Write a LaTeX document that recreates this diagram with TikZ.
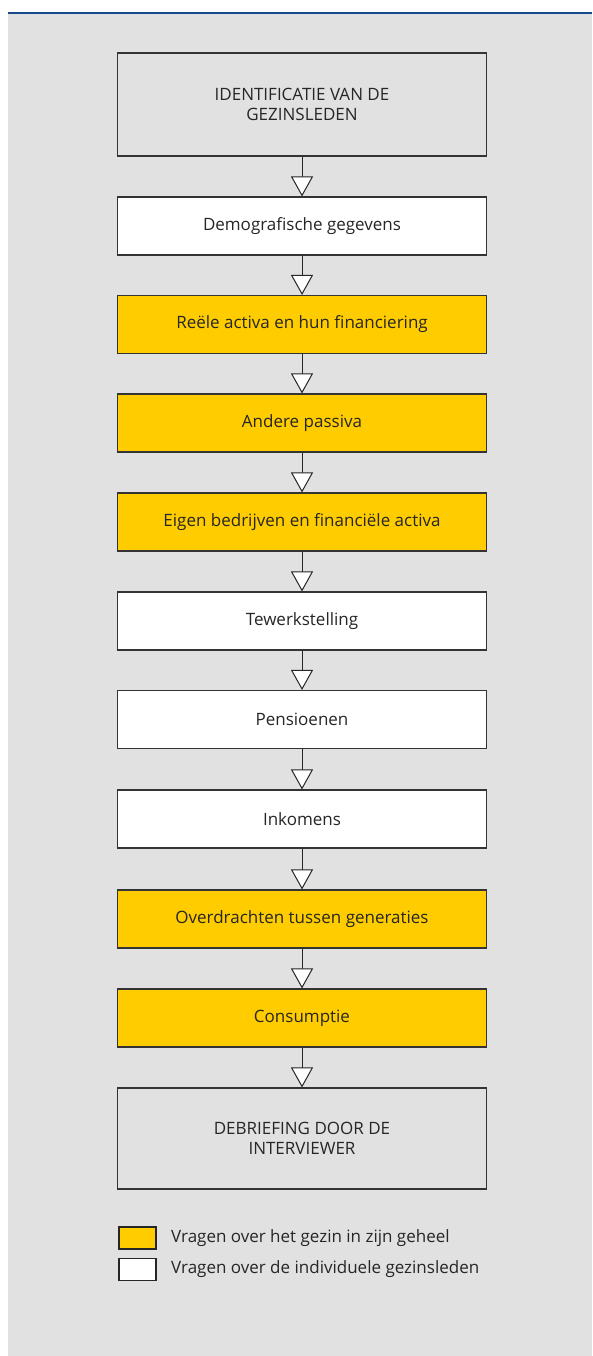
\documentclass[tikz,border=0pt]{standalone}
\usepackage{fontspec}
\setmainfont{Open Sans}
\usetikzlibrary{arrows.meta}

\definecolor{bggrey}{RGB}{225,225,225}
\definecolor{gezinyellow}{RGB}{255,204,0}
\definecolor{topblue}{RGB}{22,74,140}
\definecolor{textgrey}{RGB}{38,38,38}

\tikzset{
    stage/.style={draw=black!80, line width=1.1pt, minimum width=369pt, minimum height=58pt,
        inner sep=0pt, align=center, text=textgrey, font=\fontsize{17}{20.5}\selectfont},
    household/.style={stage, fill=gezinyellow},
    person/.style={stage, fill=white},
    frame/.style={stage, fill=bggrey, minimum height=103pt},
    flow/.style={draw=black!85, line width=1pt, -{Triangle[length=20pt, width=22pt, fill=white, line width=1pt]}},
    keybox/.style={draw=black!85, line width=1.1pt, minimum width=37pt, minimum height=22pt, inner sep=0pt},
    keytext/.style={anchor=west, inner sep=0pt, text=textgrey, font=\fontsize{17}{20}\selectfont}
}

\begin{document}
\begin{tikzpicture}[x=1pt, y=-1pt]
    \useasboundingbox (0,0) rectangle (592,1356);
    \fill[white] (0,0) rectangle (592,1356);
    \fill[bggrey] (8,14) rectangle (592,1356);
    \draw[topblue, line width=2.5pt] (8,13) -- (592,13);

    \node[frame] (ident) at (302,104.5) {IDENTIFICATIE VAN DE\\GEZINSLEDEN};
    \node[person] (demo) at (302,226) {Demografische gegevens};
    \node[household] (reeel) at (302,324.5) {Reële activa en hun financiering};
    \node[household] (passiva) at (302,423) {Andere passiva};
    \node[household] (bedrijf) at (302,522) {Eigen bedrijven en financiële activa};
    \node[person] (werk) at (302,621) {Tewerkstelling};
    \node[person] (pensioen) at (302,719.5) {Pensioenen};
    \node[person] (inkomen) at (302,819) {Inkomens};
    \node[household] (overdracht) at (302,919) {Overdrachten tussen generaties};
    \node[household] (consumptie) at (302,1018) {Consumptie};
    \node[frame, minimum height=101pt] (debrief) at (302,1138.5) {DEBRIEFING DOOR DE\\INTERVIEWER};

    \draw[flow] (ident) -- (demo);
    \draw[flow] (demo) -- (reeel);
    \draw[flow] (reeel) -- (passiva);
    \draw[flow] (passiva) -- (bedrijf);
    \draw[flow] (bedrijf) -- (werk);
    \draw[flow] (werk) -- (pensioen);
    \draw[flow] (pensioen) -- (inkomen);
    \draw[flow] (inkomen) -- (overdracht);
    \draw[flow] (overdracht) -- (consumptie);
    \draw[flow] (consumptie) -- (debrief);

    % legenda
    \node[keybox, fill=gezinyellow] (keygezin) at (137.5,1238) {};
    \node[keybox, fill=white] (keyleden) at (137.5,1269.5) {};
    \node[keytext] (txtgezin) at (171,1238) {Vragen over het gezin in zijn geheel};
    \node[keytext] (txtleden) at (171,1269.5) {Vragen over de individuele gezinsleden};
\end{tikzpicture}
\end{document}
